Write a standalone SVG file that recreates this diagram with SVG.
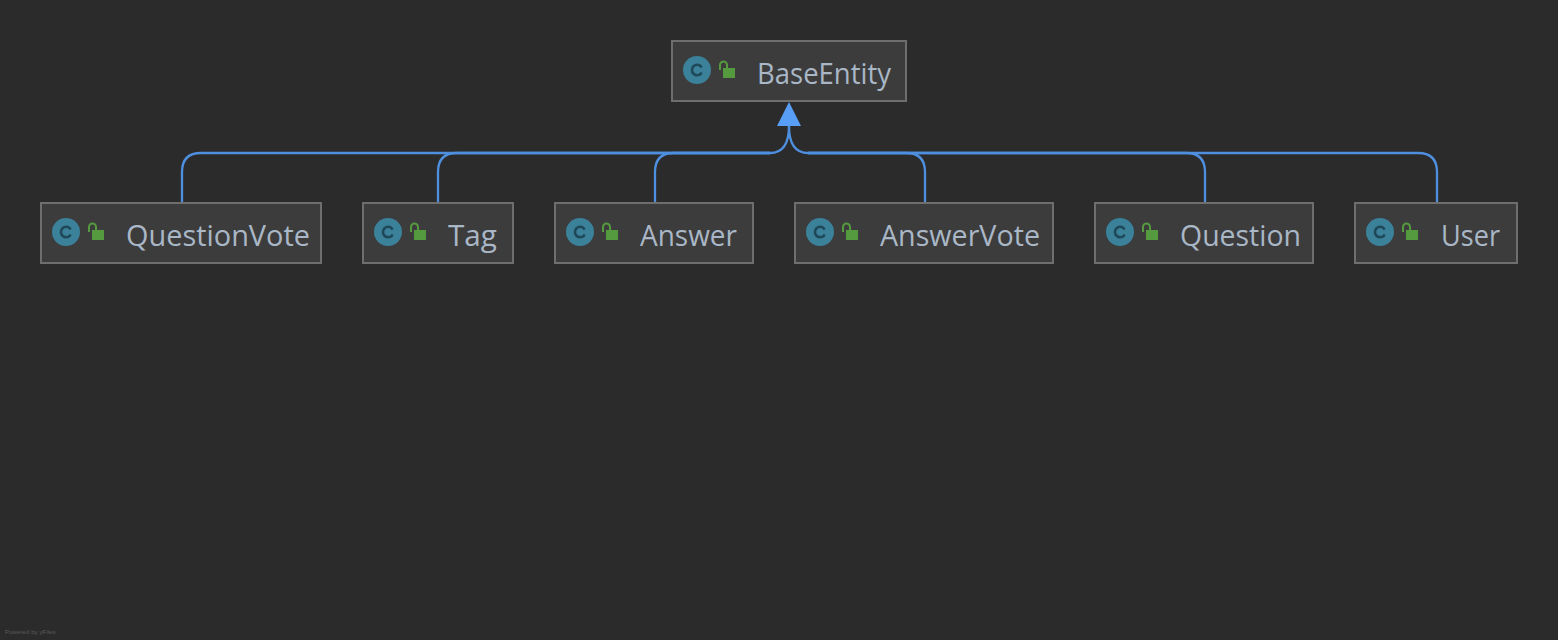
<svg xmlns="http://www.w3.org/2000/svg" width="1558" height="640" viewBox="0 0 1558 640">
<style>
.box{fill:#3c3c3c;stroke:#6e6e6e;stroke-width:2}
.lbl{font-family:"Open Sans","Noto Sans",sans-serif;font-size:28.5px;fill:#a9b7c6}
.edge{fill:none;stroke:#4e8fdf;stroke-width:2.3}
.c{fill:none;stroke:#1f4858;stroke-width:2.6;stroke-linecap:round}
.pw{font-family:"Liberation Sans",sans-serif;font-size:6.200px;fill:#5a5a5a}
</style>
<defs>
<g id="icon">
<circle cx="14" cy="14" r="14" fill="#3a8199"/>
<path class="c" d="M18 10.500A5.200 5.200 0 1 0 18 17.500"/>
<rect x="40" y="12" width="12" height="10" fill="#559a3e"/>
<path d="M37 14V9a3.500 3.500 0 0 1 7 0V12" fill="none" stroke="#559a3e" stroke-width="2"/>
</g>
</defs>
<rect width="1558" height="640" fill="#2b2b2b"/>
<g id="connectors">
<path class="edge" d="M182 202V172Q182 153 201 153H770Q789 153 789 126"/>
<path class="edge" d="M438 202V172Q438 153 457 153H770"/>
<path class="edge" d="M655 202V172Q655 153 674 153H770"/>
<path class="edge" d="M925 202V172Q925 153 906 153H808Q789 153 789 126"/>
<path class="edge" d="M1205 202V172Q1205 153 1186 153H808"/>
<path class="edge" d="M1437 202V172Q1437 153 1418 153H808"/>
<polygon points="789,102 801,126 777,126" fill="#589df6"/>
</g>
<g id="BaseEntity"><rect class="box" x="672" y="41" width="234" height="60"/><use href="#icon" x="683" y="56"/><text class="lbl" x="757" y="84" textLength="134" lengthAdjust="spacingAndGlyphs">BaseEntity</text></g>
<g id="QuestionVote"><rect class="box" x="41" y="203" width="280" height="60"/><use href="#icon" x="52" y="218"/><text class="lbl" x="126" y="246" textLength="184" lengthAdjust="spacingAndGlyphs">QuestionVote</text></g>
<g id="Tag"><rect class="box" x="363" y="203" width="150" height="60"/><use href="#icon" x="374" y="218"/><text class="lbl" x="448" y="246" textLength="49" lengthAdjust="spacingAndGlyphs">Tag</text></g>
<g id="Answer"><rect class="box" x="555" y="203" width="198" height="60"/><use href="#icon" x="566" y="218"/><text class="lbl" x="640" y="246" textLength="97" lengthAdjust="spacingAndGlyphs">Answer</text></g>
<g id="AnswerVote"><rect class="box" x="795" y="203" width="258" height="60"/><use href="#icon" x="806" y="218"/><text class="lbl" x="880" y="246" textLength="160" lengthAdjust="spacingAndGlyphs">AnswerVote</text></g>
<g id="Question"><rect class="box" x="1095" y="203" width="218" height="60"/><use href="#icon" x="1106" y="218"/><text class="lbl" x="1180" y="246" textLength="121" lengthAdjust="spacingAndGlyphs">Question</text></g>
<g id="User"><rect class="box" x="1355" y="203" width="162" height="60"/><use href="#icon" x="1366" y="218"/><text class="lbl" x="1441" y="246" textLength="59" lengthAdjust="spacingAndGlyphs">User</text></g>
<text class="pw" x="5" y="634">Powered by yFiles</text>
</svg>
